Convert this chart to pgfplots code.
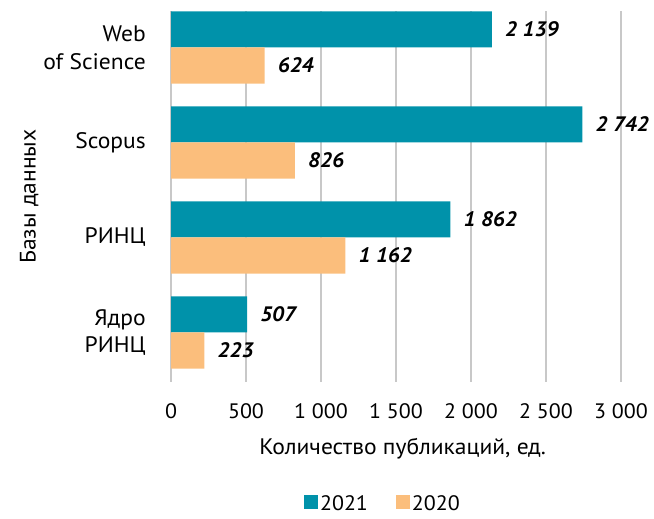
\documentclass[border=0pt]{standalone}
\usepackage{pgfplots}
\pgfplotsset{compat=1.18}
\usepackage{fontspec}
\setmainfont{PT Sans}[FakeStretch=1.05]
\definecolor{teal21}{RGB}{0,146,170}
\definecolor{org20}{RGB}{251,190,124}
\definecolor{gridc}{RGB}{200,200,200}
\begin{document}
\begin{tikzpicture}[x=1bp,y=1bp]
\path[use as bounding box] (0,0) rectangle (654,519);
\begin{axis}[
  at={(171bp,137bp)}, anchor=south west,
  scale only axis, width=450bp, height=371bp,
  xmin=0, xmax=3000, ymin=-0.521, ymax=3.384,
  xbar, bar width=0.38,
  clip=false,
  axis line style={draw=none},
  xtick={0,500,...,3000},
  ytick={0,1,2,3},
  yticklabels={{Ядро\\РИНЦ},{РИНЦ},{Scopus},{Web\\of Science}},
  xmajorgrids, ymajorgrids=false,
  grid style={gridc, line width=1.5bp},
  major tick length=0pt,
  tick style={draw=none},
  xticklabel style={font=\fontsize{21}{26}\selectfont, anchor=north, inner sep=0pt, yshift=-21bp},
  yticklabel style={font=\fontsize{22.5}{28}\selectfont, align=right, anchor=east, inner sep=0pt, xshift=-25bp},
  /pgf/number format/1000 sep={\ },
  /pgf/number format/assume math mode=true,
  xlabel={Количество публикаций, ед.},
  xlabel style={at={(axis description cs:0.515,-0.18)}, anchor=center, font=\fontsize{22.5}{26}\selectfont},
  ylabel={Базы данных},
  ylabel style={at={(axis description cs:-0.315,0.5)}, anchor=center, font=\fontsize{22.5}{26}\selectfont},
  point meta=x,
  nodes near coords,
  nodes near coords style={font=\fontsize{21}{26}\selectfont\bfseries\itshape, anchor=west, inner sep=0pt, xshift=13bp},
  legend columns=2,
  legend style={draw=none, at={(axis description cs:0.471,-0.327)}, anchor=center,
    font=\fontsize{21}{24}\selectfont,
    /tikz/every even column/.append style={column sep=26bp}},
  legend image code/.code={\fill[#1] (0bp,-6bp) rectangle (14bp,8bp);},
]
\addplot[fill=teal21, draw=none, bar shift=0.19] coordinates {(507,0) (1862,1) (2742,2) (2139,3)};
\addlegendentry{2021}
\addplot[fill=org20, draw=none, bar shift=-0.19] coordinates {(223,0) (1162,1) (826,2) (624,3)};
\addlegendentry{2020}
\end{axis}
\end{tikzpicture}
\end{document}
